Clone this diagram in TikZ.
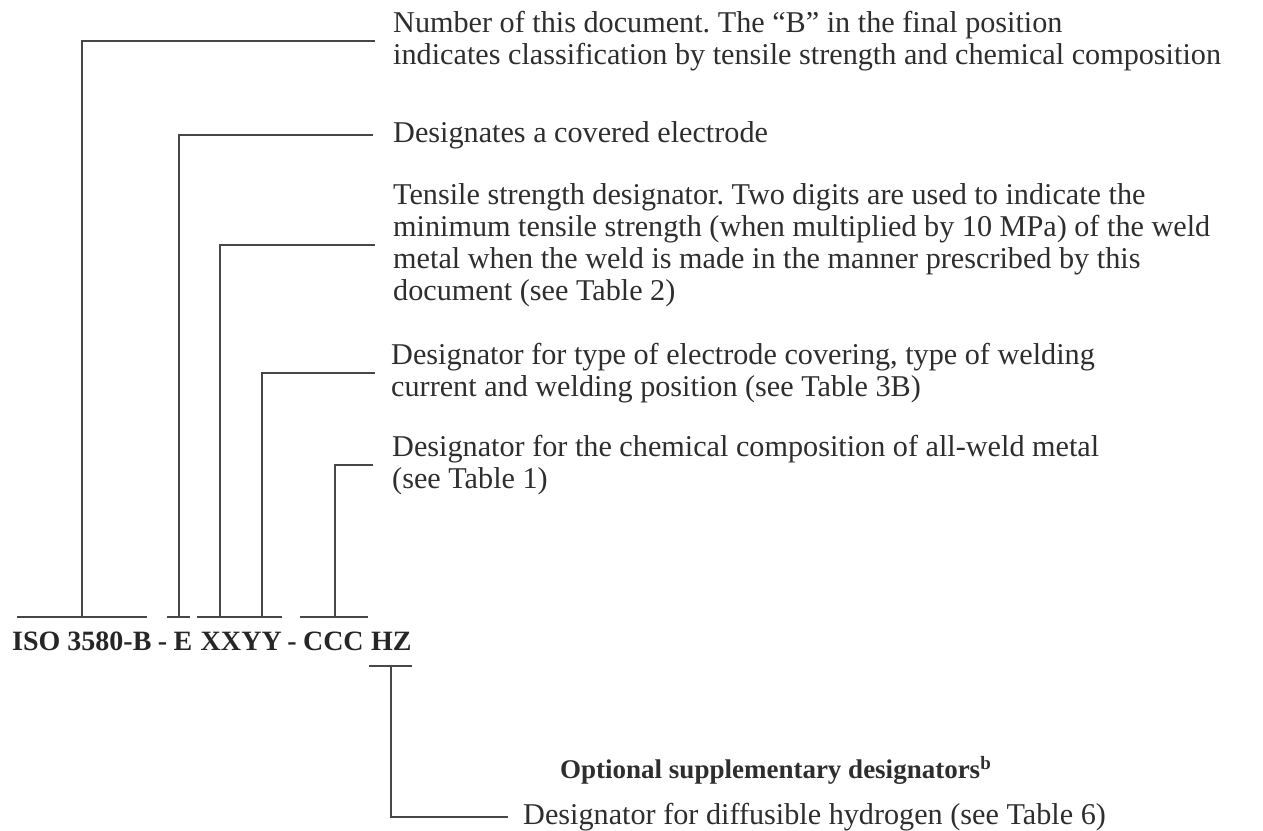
\documentclass[tikz,border=0pt]{standalone}
\usepackage{fontspec}
\setmainfont{Liberation Serif}
\usetikzlibrary{positioning}
\frenchspacing

\begin{document}
\begin{tikzpicture}[x=1pt,y=-1pt,
  leader/.style={draw=black!72, line width=2pt},
  desc/.style={anchor=west, inner sep=0pt, align=left, text=black!82,
    font=\fontsize{30.2}{32}\selectfont},
  desig/.style={anchor=base west, inner sep=0pt, text=black!85,
    font=\fontsize{28}{30}\selectfont\bfseries}]
\useasboundingbox (0,0) rectangle (1263,830);
% the designation
\node[desig] (iso) at (12,650) {ISO 3580-B};
\node[desig] (dash1) at ([xshift=6pt]iso.base east) {-};
\node[desig] (e) at ([xshift=6pt]dash1.base east) {E};
\node[desig] (xx) at ([xshift=8pt]e.base east) {XX};
\node[desig] (yy) at (xx.base east) {YY};
\node[desig] (dash2) at ([xshift=5pt]yy.base east) {-};
\node[desig] (ccc) at ([xshift=6pt]dash2.base east) {CCC};
\node[desig] (hz) at ([xshift=7pt]ccc.base east) {HZ};
% the explanations
\node[desc] (num) at (393,41) {Number of this document. The “B” in the final position\\
  indicates classification by tensile strength and chemical composition};
\node[desc] (elec) at (393,135) {Designates a covered electrode};
\node[desc] (tens) at (393,245) {Tensile strength designator. Two digits are used to indicate the\\
  minimum tensile strength (when multiplied by 10 MPa) of the weld\\
  metal when the weld is made in the manner prescribed by this\\
  document (see Table 2)};
\node[desc] (cov) at (391,373) {Designator for type of electrode covering, type of welding\\
  current and welding position (see Table 3B)};
\node[desc] (chem) at (392,465) {Designator for the chemical composition of all-weld metal\\
  (see Table 1)};
\node[desc, font=\fontsize{27}{30}\selectfont\bfseries] (opt) at (560,770)
  {Optional supplementary designators\textsuperscript{b}};
\node[desc] (hyd) at (523,817) {Designator for diffusible hydrogen (see Table 6)};
% brackets
\draw[leader] ([shift={(5,-14)}]iso.north west) -- ([shift={(-5,-14)}]iso.north east);
\draw[leader] ([shift={(-6,-14)}]e.north west) -- ([shift={(-2,-14)}]e.north east);
\draw[leader] ([shift={(-3,-14)}]xx.north west) -- ([shift={(0,-14)}]yy.north east);
\draw[leader] ([shift={(-3,-14)}]ccc.north west) -- ([shift={(4,-14)}]ccc.north east);
\draw[leader] ([shift={(-2,16)}]hz.base west) -- ([shift={(0,16)}]hz.base east);
% leaders
\draw[leader] ([yshift=14pt]iso.north) |- ([xshift=-18pt]num.west);
\draw[leader] ([shift={(-4,-14)}]e.north) |- ([xshift=-20pt]elec.west);
\draw[leader] ([shift={(-1,-14)}]xx.north) |- ([xshift=-18pt]tens.west);
\draw[leader] ([shift={(0,-14)}]yy.north) |- ([xshift=-16pt]cov.west);
\draw[leader] ([shift={(2,-14)}]ccc.north) |- ([xshift=-19pt]chem.west);
\draw[leader] ([shift={(0,16)}]hz.base) |- ([xshift=-15pt]hyd.west);
\end{tikzpicture}
\end{document}
